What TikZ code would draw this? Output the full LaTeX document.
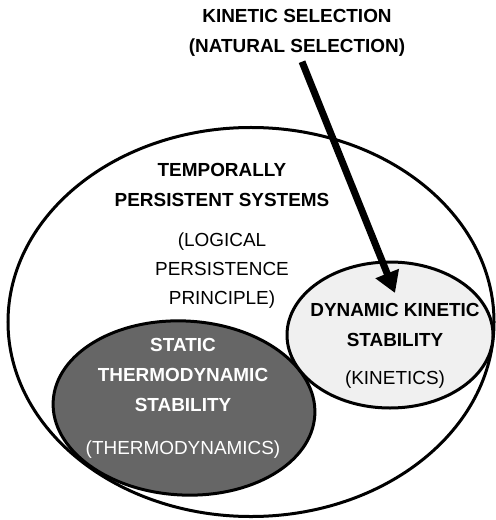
\documentclass[tikz,border=0pt]{standalone}
\usepackage{fontspec}
\setmainfont{Liberation Sans}
\usetikzlibrary{arrows.meta,positioning,shapes.geometric}
\definecolor{staticgray}{gray}{0.40}
\definecolor{kineticgray}{gray}{0.94}
\tikzset{
  region/.style    ={ellipse, draw=black, line width=3bp, inner sep=0pt},
  regionS/.style   ={region, fill=staticgray},   % thermodynamic
  regionK/.style   ={region, fill=kineticgray},  % kinetic
  head/.style      ={align=center, inner sep=1bp, font=\fontsize{19}{30}\selectfont\bfseries},
  paren/.style     ={align=center, inner sep=1bp, font=\fontsize{19}{29}\selectfont},
  selarrow/.style  ={-{Triangle[length=21bp, width=24bp]}, line width=7bp},
}

\begin{document}
\begin{tikzpicture}[x=1bp, y=-1bp, node distance=27bp]
  \useasboundingbox (0,0) rectangle (496,520);
  \node[region, minimum width=486bp, minimum height=389bp]            (tps) at (251,322) {};
  \node[regionS, minimum width=262bp, minimum height=174bp, rotate=-3] (stat) at (184,408) {};
  \node[regionK, minimum width=206bp, minimum height=146bp]           (dyn) at (390,335) {};

  \node[head]                    (sel)  at (297,33) {KINETIC SELECTION\\(NATURAL SELECTION)};
  \node[head]                    (tpsT) at (222,185) {TEMPORALLY\\PERSISTENT SYSTEMS};
  \node[paren, below=24bp of tpsT] (tpsP) {(LOGICAL\\PERSISTENCE\\PRINCIPLE)};
  \node[head, text=white]        (statT) at (183,375) {STATIC\\THERMODYNAMIC\\STABILITY};
  \node[paren, text=white, below=of statT] (statP) {(THERMODYNAMICS)};
  \node[head]                    (dynT) at (395,325) {DYNAMIC KINETIC\\STABILITY};
  \node[paren, below=22bp of dynT] (dynP) {(KINETICS)};

  \coordinate (tip) at (395,293);
  \draw[selarrow] ([xshift=5bp, yshift=-4bp]sel.south) -- (tip);
\end{tikzpicture}
\end{document}
